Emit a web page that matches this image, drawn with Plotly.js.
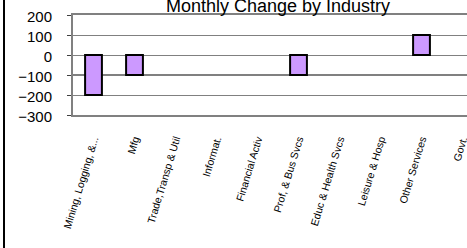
<!DOCTYPE html>
<html>
<head>
<meta charset="utf-8">
<script src="https://cdn.plot.ly/plotly-3.0.1.min.js"></script>
<style>
html, body { margin: 0; padding: 0; overflow: hidden; background: #fff; width: 467px; height: 248px; }
#chart { position: absolute; left: 0; top: 0; width: 510px; height: 248px; }
#frame { position: absolute; left: 3px; top: 0; width: 2px; height: 248px; background: #000; z-index: 5; }
</style>
</head>
<body>
<div id="chart"></div>
<div id="frame"></div>
<script>
const categories = ["Mining, Logging, &...", "Mfg", "Trade,Transp & Util", "Informat.", "Financial Activ",
  "Prof, & Bus Svcs", "Educ & Health Svcs", "Leisure & Hosp", "Other Services", "Govt."];
// categories without a visible bar are left empty (null)
const changes = [-200, -100, null, null, null, -100, null, null, 100, null];
const yTicks = [-300, -200, -100, 0, 100, 200];
const refLine = -100;

const boundaries = categories.map((c, i) => i + 0.5);

const trace = {
  type: 'bar',
  x: categories,
  y: changes,
  marker: { color: '#CC99FF', line: { color: '#000000', width: 2 } },
  hoverinfo: 'none'
};

const layout = {
  width: 510,
  height: 248,
  margin: { l: 73, r: 27, t: 15, b: 133 },
  paper_bgcolor: '#ffffff',
  plot_bgcolor: '#ffffff',
  showlegend: false,
  bargap: 0.59,
  font: { family: 'Liberation Sans, Arial, sans-serif', color: '#000' },
  title: {
    text: 'Monthly Change by Industry',
    font: { size: 18, color: '#000', family: 'Liberation Sans, Arial, sans-serif' },
    xref: 'paper', x: 0.5, xanchor: 'center',
    yref: 'container', y: 0.952, yanchor: 'bottom'
  },
  xaxis: {
    type: 'category',
    categoryarray: categories,
    range: [-0.5, categories.length - 0.5],
    showline: true, mirror: true, linecolor: '#808080', linewidth: 2,
    ticks: '', showgrid: false, zeroline: false,
    tickangle: -73,
    tickfont: { size: 10.5, color: '#000' },
    ticklabelstandoff: 12
  },
  xaxis2: {
    type: 'linear',
    overlaying: 'x',
    anchor: 'free',
    position: 0.6,
    range: [-0.5, categories.length - 0.5],
    tickmode: 'array',
    tickvals: boundaries,
    ticks: 'outside', ticklen: 3, tickcolor: '#404040', tickwidth: 1,
    showticklabels: false, showline: false, showgrid: false, zeroline: false
  },
  yaxis: {
    range: [yTicks[0], yTicks[yTicks.length - 1]],
    tickmode: 'array',
    tickvals: yTicks,
    ticks: 'outside', ticklen: 4, tickcolor: '#404040',
    showline: true, linecolor: '#808080', linewidth: 2,
    showgrid: true, gridcolor: '#808080', gridwidth: 1,
    zeroline: false,
    tickfont: { size: 15, color: '#000' },
    ticklabelstandoff: 12,
    ticklabelshift: 2
  },
  shapes: [{
    type: 'line', xref: 'paper', yref: 'y', x0: 0, x1: 1, y0: refLine, y1: refLine,
    line: { color: '#000000', width: 1 }, layer: 'below'
  }]
};

Plotly.newPlot('chart', [trace], layout, { staticPlot: true, displayModeBar: false });
</script>
</body>
</html>
